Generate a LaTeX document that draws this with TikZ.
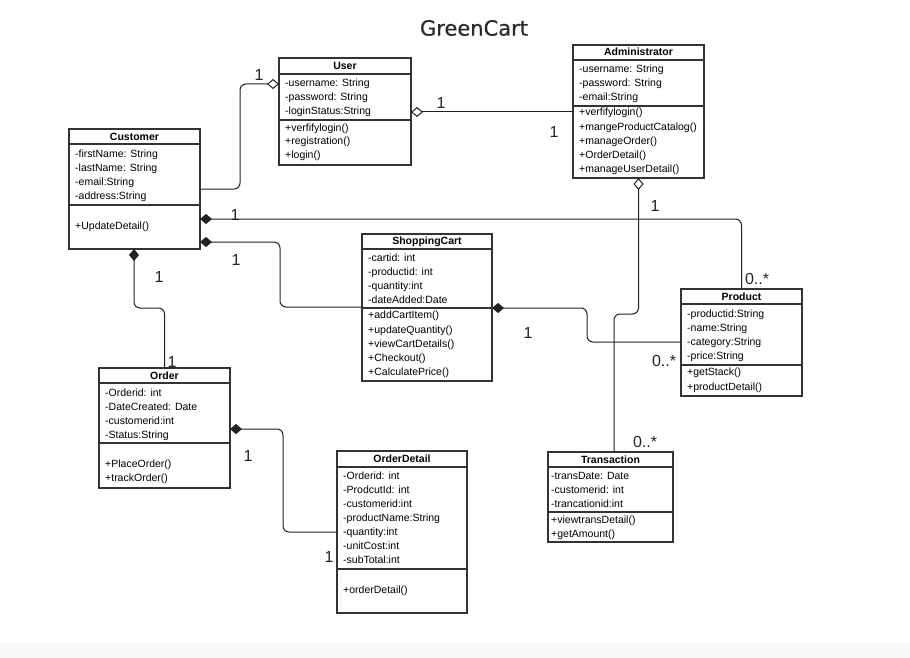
\documentclass[tikz,border=0pt]{standalone}
\usepackage{fontspec}
\setmainfont{Liberation Sans}
\newfontfamily\titlefont[FakeBold=0.6]{DejaVu Sans}
\usetikzlibrary{arrows.meta}
\definecolor{boxc}{HTML}{333333}
\definecolor{linec}{HTML}{222222}
\definecolor{titlec}{HTML}{2A2A2A}
\definecolor{bandc}{HTML}{F7F8FA}
\begin{document}
\begin{tikzpicture}[x=1pt,y=-1pt,
  classbox/.style={draw=boxc, line width=1.1pt, fill=white, anchor=north west, inner sep=0pt, outer sep=0pt},
  sepline/.style={draw=boxc, line width=1.1pt},
  attr/.style={anchor=base west, inner sep=0pt, yshift=-3.8pt, font=\fontsize{10.5}{12}\selectfont},
  head/.style={anchor=base, inner sep=0pt, yshift=-3.8pt, font=\fontsize{10.5}{12}\selectfont\bfseries},
  conn/.style={draw=linec, line width=1pt, rounded corners=6pt},
  aggstart/.style={{Diamond[open,length=12pt,width=10pt]}-},
  aggend/.style={-{Diamond[open,length=12pt,width=10pt]}},
  compstart/.style={{Diamond[length=12pt,width=10pt]}-},
  mult/.style={font=\fontsize{16}{18}\selectfont, text=linec, inner sep=0pt},
]
\useasboundingbox (0,0) rectangle (910,658);
\fill[bandc] (0,643) rectangle (910,658);

\node[font=\titlefont\fontsize{21}{24}\selectfont, text=titlec] (title) at (474,28) {GreenCart};

% ---------- User
\node[classbox, minimum width=132pt, minimum height=107pt] (user) at (279,58) {};
\draw[sepline] (279,74) -- (411,74);
\draw[sepline] (279,120) -- (411,120);
\node[head] (userh) at (345,66) {User};
\node[attr] (u1) at (285,83) {-username: String};
\node[attr] (u2) at (285,97) {-password: String};
\node[attr] (u3) at (285,111) {-loginStatus:String};
\node[attr] (u4) at (285,128) {+verfifylogin()};
\node[attr] (u5) at (285,141) {+registration()};
\node[attr] (u6) at (285,155) {+login()};

% ---------- Customer
\node[classbox, minimum width=131pt, minimum height=120pt] (cust) at (69,129) {};
\draw[sepline] (69,144) -- (200,144);
\draw[sepline] (69,205) -- (200,205);
\node[head] (custh) at (134.5,136.5) {Customer};
\node[attr] (c1) at (75,154) {-firstName: String};
\node[attr] (c2) at (75,168) {-lastName: String};
\node[attr] (c3) at (75,182) {-email:String};
\node[attr] (c4) at (75,196) {-address:String};
\node[attr] (c5) at (75,226) {+UpdateDetail()};

% ---------- Administrator
\node[classbox, minimum width=131pt, minimum height=133pt] (admin) at (573,45) {};
\draw[sepline] (573,60) -- (704,60);
\draw[sepline] (573,106) -- (704,106);
\node[head] (adminh) at (638.5,51.5) {Administrator};
\node[attr] (a1) at (579,69) {-username: String};
\node[attr] (a2) at (579,83) {-password: String};
\node[attr] (a3) at (579,97) {-email:String};
\node[attr] (a4) at (579,112) {+verfifylogin()};
\node[attr] (a5) at (579,127) {+mangeProductCatalog()};
\node[attr] (a6) at (579,141) {+manageOrder()};
\node[attr] (a7) at (579,155) {+OrderDetail()};
\node[attr] (a8) at (579,169) {+manageUserDetail()};

% ---------- ShoppingCart
\node[classbox, minimum width=130pt, minimum height=147pt] (cart) at (362,234) {};
\draw[sepline] (362,249) -- (492,249);
\draw[sepline] (362,308) -- (492,308);
\node[head] (carth) at (427,240.5) {ShoppingCart};
\node[attr] (s1) at (368,258) {-cartid: int};
\node[attr] (s2) at (368,272) {-productid: int};
\node[attr] (s3) at (368,286) {-quantity:int};
\node[attr] (s4) at (368,300) {-dateAdded:Date};
\node[attr] (s5) at (368,315) {+addCartItem()};
\node[attr] (s6) at (368,330) {+updateQuantity()};
\node[attr] (s7) at (368,344) {+viewCartDetails()};
\node[attr] (s8) at (368,358) {+Checkout()};
\node[attr] (s9) at (368,372) {+CalculatePrice()};

% ---------- Product
\node[classbox, minimum width=121pt, minimum height=107pt] (prod) at (681,289) {};
\draw[sepline] (681,304) -- (802,304);
\draw[sepline] (681,365) -- (802,365);
\node[head] (prodh) at (741.5,296.5) {Product};
\node[attr] (p1) at (687,314) {-productid:String};
\node[attr] (p2) at (687,328) {-name:String};
\node[attr] (p3) at (687,342) {-category:String};
\node[attr] (p4) at (687,356) {-price:String};
\node[attr] (p5) at (687,372) {+getStack()};
\node[attr] (p6) at (687,387) {+productDetail()};

% ---------- Order
\node[classbox, minimum width=131pt, minimum height=120pt] (order) at (99,368) {};
\draw[sepline] (99,383) -- (230,383);
\draw[sepline] (99,443) -- (230,443);
\node[head] (orderh) at (164.5,375.5) {Order};
\node[attr] (o1) at (105,393) {-Orderid: int};
\node[attr] (o2) at (105,407) {-DateCreated: Date};
\node[attr] (o3) at (105,421) {-customerid:int};
\node[attr] (o4) at (105,435) {-Status:String};
\node[attr] (o5) at (105,464) {+PlaceOrder()};
\node[attr] (o6) at (105,478) {+trackOrder()};

% ---------- OrderDetail
\node[classbox, minimum width=130pt, minimum height=162pt] (od) at (337,451) {};
\draw[sepline] (337,467) -- (467,467);
\draw[sepline] (337,569) -- (467,569);
\node[head] (odh) at (402,459) {OrderDetail};
\node[attr] (d1) at (343,476) {-Orderid: int};
\node[attr] (d2) at (343,490) {-ProdcutId: int};
\node[attr] (d3) at (343,504) {-customerid:int};
\node[attr] (d4) at (343,518) {-productName:String};
\node[attr] (d5) at (343,532) {-quantity:int};
\node[attr] (d6) at (343,546) {-unitCost:int};
\node[attr] (d7) at (343,560) {-subTotal:int};
\node[attr] (d8) at (343,590) {+orderDetail()};

% ---------- Transaction
\node[classbox, minimum width=125pt, minimum height=90pt] (trans) at (548,452) {};
\draw[sepline] (548,467) -- (673,467);
\draw[sepline] (548,512) -- (673,512);
\node[head] (transh) at (610.5,459.5) {Transaction};
\node[attr] (t1) at (551,476) {-transDate: Date};
\node[attr] (t2) at (551,490) {-customerid: int};
\node[attr] (t3) at (551,504) {-trancationid:int};
\node[attr] (t4) at (551,520) {+viewtransDetail()};
\node[attr] (t5) at (551,534) {+getAmount()};

% ---------- connectors
\draw[conn, aggend] ([yshift=-60pt]cust.north east) -- (240,189) -- (240,84) -- ([yshift=-26pt]user.north west);
\draw[conn, aggstart] ([yshift=-54pt]user.north east) -- ([yshift=-67pt]admin.north west);
\draw[conn, aggstart] (admin.south) -- (638.5,314) -- (614,314) -- ([xshift=66pt]trans.north west);
\draw[conn, compstart] ([yshift=-90pt]cust.north east) -- (741.5,219) -- (prod.north);
\draw[conn, compstart] ([yshift=-113pt]cust.north east) -- (280,242) -- (280,307) -- ([yshift=-73pt]cart.north west);
\draw[conn, compstart] ([yshift=-74pt]cart.north east) -- (587,308) -- (587,342) -- ([yshift=-53pt]prod.north west);
\draw[conn, compstart] ([xshift=-0.5pt]cust.south) -- (134,308) -- (164.5,308) -- (order.north);
\draw[conn, compstart] ([yshift=-61pt]order.north east) -- (283,429) -- (283,532) -- ([yshift=-81pt]od.north west);

% ---------- multiplicities
\node[mult] (m1) at (259,75) {1};
\node[mult] (m2) at (441,103) {1};
\node[mult] (m3) at (554,132) {1};
\node[mult] (m4) at (655,206) {1};
\node[mult] (m5) at (645,442) {0..*};
\node[mult] (m6) at (235,215) {1};
\node[mult] (m7) at (757,279) {0..*};
\node[mult] (m8) at (236,260) {1};
\node[mult] (m9) at (528,333) {1};
\node[mult] (m10) at (664,361) {0..*};
\node[mult] (m11) at (159,277) {1};
\node[mult] (m12) at (172,362) {1};
\node[mult] (m13) at (248,456) {1};
\node[mult] (m14) at (329,557) {1};
\end{tikzpicture}
\end{document}
